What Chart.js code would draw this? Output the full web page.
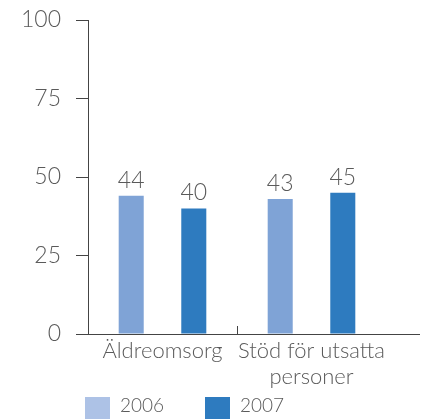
<!DOCTYPE html>
<html>
<head>
<meta charset="utf-8">
<script src="https://cdn.jsdelivr.net/npm/chart.js@4"></script>
<style>
  html, body { margin: 0; padding: 0; background: #fff; }
  #wrap { position: relative; width: 424px; height: 419px; overflow: hidden; }
  #legend { position: absolute; left: 0; top: 0; width: 424px; height: 419px; pointer-events: none;
            font-family: Lato, "Noto Sans", sans-serif; font-weight: 300; font-size: 19px; color: #5a5a5a; }
  .sw { position: absolute; top: 397px; width: 25px; height: 22px; }
  .lt { position: absolute; top: 394px; line-height: 22px; }
</style>
</head>
<body>
<div id="wrap">
  <canvas id="chart" width="424" height="419"></canvas>
  <div id="legend"></div>
</div>
<script>
const categories = ["Äldreomsorg", ["Stöd för utsatta", "personer"]];
const years = ["2006", "2007"];
const values2006 = [44, 43];
const values2007 = [40, 45];
const yTicks = [0, 25, 50, 75, 100];

const barColors = ["#7fa3d6", "#2e7bbf"];
const legendColors = ["#adc2e6", "#2e7bbf"];
const textColor = "#5a5a5a";
const fontFamily = "Lato, 'Noto Sans', sans-serif";

// legend in html, below the plot
const legendEl = document.getElementById("legend");
const legendX = [85, 205];
years.forEach((y, i) => {
  const sw = document.createElement("div");
  sw.className = "sw";
  sw.style.left = legendX[i] + "px";
  sw.style.background = legendColors[i];
  legendEl.appendChild(sw);
  const t = document.createElement("div");
  t.className = "lt";
  t.style.left = (legendX[i] + 35) + "px";
  t.textContent = y;
  legendEl.appendChild(t);
});

// baseline, separator tick and value labels
const extras = {
  id: "extras",
  afterDatasetsDraw(chart) {
    const ctx = chart.ctx;
    const area = chart.chartArea;
    const x = chart.scales.x;
    const y = chart.scales.y;
    const y0 = y.getPixelForValue(0);
    ctx.save();
    ctx.strokeStyle = "#444";
    ctx.lineWidth = 1;
    ctx.beginPath();
    ctx.moveTo(area.left - 12, Math.round(y0) + 0.5);
    ctx.lineTo(420, Math.round(y0) + 0.5);
    // separator between categories
    const sep = Math.round((x.getPixelForValue(0) + x.getPixelForValue(1)) / 2) + 0.5;
    ctx.moveTo(sep, y0);
    ctx.lineTo(sep, y0 - 8);
    ctx.stroke();

    ctx.fillStyle = textColor;
    ctx.font = "300 23px " + fontFamily;
    ctx.textAlign = "center";
    ctx.textBaseline = "alphabetic";
    chart.data.datasets.forEach((ds, di) => {
      chart.getDatasetMeta(di).data.forEach((bar, i) => {
        ctx.fillText(String(ds.data[i]), bar.x, bar.y - 8);
      });
    });
    ctx.restore();
  }
};

new Chart(document.getElementById("chart"), {
  type: "bar",
  data: {
    labels: categories,
    datasets: [
      { label: years[0], data: values2006, backgroundColor: barColors[0] },
      { label: years[1], data: values2007, backgroundColor: barColors[1] }
    ]
  },
  options: {
    responsive: false,
    animation: false,
    categoryPercentage: 0.84,
    barPercentage: 0.4,
    layout: { padding: { left: 0, top: 20, right: 38, bottom: 0 } },
    plugins: {
      legend: { display: false },
      tooltip: { enabled: false }
    },
    scales: {
      x: {
        grid: { display: false, drawTicks: false },
        border: { display: false },
        ticks: {
          color: textColor,
          padding: 3,
          autoSkip: false,
          maxRotation: 0,
          minRotation: 0,
          font: { family: fontFamily, size: 22, weight: 300, lineHeight: 1.22 }
        },
        afterFit(s) { s.height = 85; s.paddingLeft = 0; s.paddingRight = 0; }
      },
      y: {
        min: 0,
        max: 100,
        afterBuildTicks(s) { s.ticks = yTicks.map(v => ({ value: v })); },
        grid: { drawOnChartArea: false, tickLength: 12, color: "#444" },
        border: { display: true, color: "#444" },
        ticks: {
          color: textColor,
          padding: 15,
          font: { family: fontFamily, size: 23, weight: 300 }
        },
        afterFit(s) { s.width = 88; s.paddingTop = 0; s.paddingBottom = 0; }
      }
    }
  },
  plugins: [extras]
});
</script>
</body>
</html>
